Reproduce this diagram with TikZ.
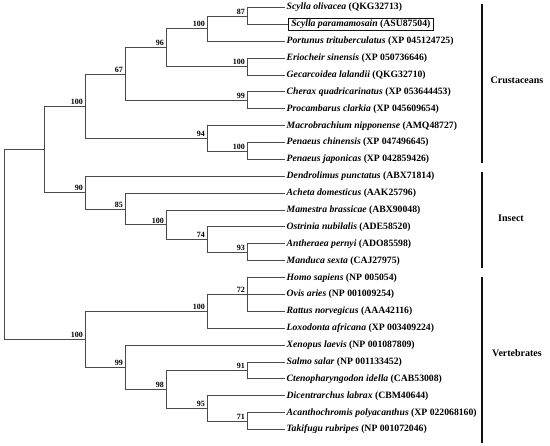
\documentclass[tikz,border=0pt]{standalone}
\usepackage{fontspec}
\setmainfont{Liberation Serif}
\usetikzlibrary{calc}
\definecolor{ink}{HTML}{111111}
\definecolor{branch}{HTML}{4A4A4A}

\tikzset{
  edge/.style={draw=branch,line width=0.8pt},
  taxon/.style={anchor=west,inner xsep=1.5pt,inner ysep=0pt,text height=7pt,text depth=2pt,
                font=\fontsize{9.7}{12}\selectfont\bfseries},
  boxed/.style={taxon,draw=ink,line width=0.6pt,inner xsep=3pt,inner ysep=1.5pt},
  boot/.style={anchor=south east,inner xsep=2pt,inner ysep=1.5pt,
               font=\fontsize{8}{9}\selectfont\bfseries},
  groupbar/.style={draw=ink,line width=1.5pt},
  group/.style={inner sep=0pt,font=\fontsize{10}{12}\selectfont\bfseries}
}

\begin{document}
\begin{tikzpicture}[x=1pt,y=-1pt]
  \useasboundingbox (0,0) rectangle (550,446);

  % taxa
  \node[taxon] (t0)  at (285,7.5)   {\textit{Scylla olivacea} (QKG32713)};
  \node[boxed] (t1)  at (288,24.4)  {\textit{Scylla paramamosain} (ASU87504)};
  \node[taxon] (t2)  at (285,41.3)  {\textit{Portunus trituberculatus} (XP 045124725)};
  \node[taxon] (t3)  at (285,58.1)  {\textit{Eriocheir sinensis} (XP 050736646)};
  \node[taxon] (t4)  at (285,75.0)  {\textit{Gecarcoidea lalandii} (QKG32710)};
  \node[taxon] (t5)  at (285,91.9)  {\textit{Cherax quadricarinatus} (XP 053644453)};
  \node[taxon] (t6)  at (285,108.8) {\textit{Procambarus clarkia} (XP 045609654)};
  \node[taxon] (t7)  at (285,125.7) {\textit{Macrobrachium nipponense} (AMQ48727)};
  \node[taxon] (t8)  at (285,142.5) {\textit{Penaeus chinensis} (XP 047496645)};
  \node[taxon] (t9)  at (285,159.4) {\textit{Penaeus japonicas} (XP 042859426)};
  \node[taxon] (t10) at (285,176.3) {\textit{Dendrolimus punctatus} (ABX71814)};
  \node[taxon] (t11) at (285,193.2) {\textit{Acheta domesticus} (AAK25796)};
  \node[taxon] (t12) at (285,210.1) {\textit{Mamestra brassicae} (ABX90048)};
  \node[taxon] (t13) at (285,226.9) {\textit{Ostrinia nubilalis} (ADE58520)};
  \node[taxon] (t14) at (285,243.8) {\textit{Antheraea pernyi} (ADO85598)};
  \node[taxon] (t15) at (285,260.7) {\textit{Manduca sexta} (CAJ27975)};
  \node[taxon] (t16) at (285,277.6) {\textit{Homo sapiens} (NP 005054)};
  \node[taxon] (t17) at (285,294.5) {\textit{Ovis aries} (NP 001009254)};
  \node[taxon] (t18) at (285,311.3) {\textit{Rattus norvegicus} (AAA42116)};
  \node[taxon] (t19) at (285,328.2) {\textit{Loxodonta africana} (XP 003409224)};
  \node[taxon] (t20) at (285,345.1) {\textit{Xenopus laevis} (NP 001087809)};
  \node[taxon] (t21) at (285,362.0) {\textit{Salmo salar} (NP 001133452)};
  \node[taxon] (t22) at (285,378.9) {\textit{Ctenopharyngodon idella} (CAB53008)};
  \node[taxon] (t23) at (285,395.7) {\textit{Dicentrarchus labrax} (CBM40644)};
  \node[taxon] (t24) at (285,412.6) {\textit{Acanthochromis polyacanthus} (XP 022068160)};
  \node[taxon] (t25) at (285,429.5) {\textit{Takifugu rubripes} (NP 001072046)};

  % internal nodes
  \coordinate (root)  at (4,244.35);
  \coordinate (nInv)  at (44,149.4);
  \coordinate (n100d) at (85,106.2);
  \coordinate (n67)   at (125,74.0);
  \coordinate (n96)   at (166,47.6);
  \coordinate (n100a) at (207,28.6);
  \coordinate (n87)   at (247,15.95);
  \coordinate (n100b) at (247,66.55);
  \coordinate (n99)   at (247,100.35);
  \coordinate (n94)   at (207,138.3);
  \coordinate (n100c) at (247,150.95);
  \coordinate (n90)   at (85,192.65);
  \coordinate (n85)   at (125,209.0);
  \coordinate (n100e) at (166,224.85);
  \coordinate (n74)   at (207,239.6);
  \coordinate (n93)   at (247,252.25);
  \coordinate (n100g) at (85,339.3);
  \coordinate (n100f) at (207,311.35);
  \coordinate (n72)   at (247,294.5);
  \coordinate (n99b)  at (125,367.25);
  \coordinate (n98)   at (166,389.4);
  \coordinate (n91)   at (247,370.45);
  \coordinate (n95)   at (207,408.4);
  \coordinate (n71)   at (247,421.05);

  % branches
  \draw[edge] (root) |- (nInv);   \draw[edge] (root) |- (n100g);
  \draw[edge] (nInv) |- (n100d);  \draw[edge] (nInv) |- (n90);
  \draw[edge] (n100d) |- (n67);   \draw[edge] (n100d) |- (n94);
  \draw[edge] (n67) |- (n96);     \draw[edge] (n67) |- (n99);
  \draw[edge] (n96) |- (n100a);   \draw[edge] (n96) |- (n100b);
  \draw[edge] (n100a) |- (n87);   \draw[edge] (n100a) |- (t2.west);
  \draw[edge] (n87) |- (t0.west); \draw[edge] (n87) |- (t1.west);
  \draw[edge] (n100b) |- (t3.west); \draw[edge] (n100b) |- (t4.west);
  \draw[edge] (n99) |- (t5.west); \draw[edge] (n99) |- (t6.west);
  \draw[edge] (n94) |- (t7.west); \draw[edge] (n94) |- (n100c);
  \draw[edge] (n100c) |- (t8.west); \draw[edge] (n100c) |- (t9.west);
  \draw[edge] (n90) |- (t10.west); \draw[edge] (n90) |- (n85);
  \draw[edge] (n85) |- (t11.west); \draw[edge] (n85) |- (n100e);
  \draw[edge] (n100e) |- (t12.west); \draw[edge] (n100e) |- (n74);
  \draw[edge] (n74) |- (t13.west); \draw[edge] (n74) |- (n93);
  \draw[edge] (n93) |- (t14.west); \draw[edge] (n93) |- (t15.west);
  \draw[edge] (n100g) |- (n100f); \draw[edge] (n100g) |- (n99b);
  \draw[edge] (n100f) |- (n72);   \draw[edge] (n100f) |- (t19.west);
  \draw[edge] (n72) |- (t16.west); \draw[edge] (n72) -- (t17.west);
  \draw[edge] (n72) |- (t18.west);
  \draw[edge] (n99b) |- (t20.west); \draw[edge] (n99b) |- (n98);
  \draw[edge] (n98) |- (n91);     \draw[edge] (n98) |- (n95);
  \draw[edge] (n91) |- (t21.west); \draw[edge] (n91) |- (t22.west);
  \draw[edge] (n95) |- (t23.west); \draw[edge] (n95) |- (n71);
  \draw[edge] (n71) |- (t24.west); \draw[edge] (n71) |- (t25.west);

  % bootstrap values
  \node[boot] (b87)   at (n87)   {87};
  \node[boot] (b100a) at (n100a) {100};
  \node[boot] (b100b) at (n100b) {100};
  \node[boot] (b96)   at (n96)   {96};
  \node[boot] (b99)   at (n99)   {99};
  \node[boot] (b67)   at (n67)   {67};
  \node[boot] (b100c) at (n100c) {100};
  \node[boot] (b94)   at (n94)   {94};
  \node[boot] (b100d) at (n100d) {100};
  \node[boot] (b93)   at (n93)   {93};
  \node[boot] (b74)   at (n74)   {74};
  \node[boot] (b100e) at (n100e) {100};
  \node[boot] (b85)   at (n85)   {85};
  \node[boot] (b90)   at (n90)   {90};
  \node[boot] (b72)   at (n72)   {72};
  \node[boot] (b100f) at (n100f) {100};
  \node[boot] (b91)   at (n91)   {91};
  \node[boot] (b71)   at (n71)   {71};
  \node[boot] (b95)   at (n95)   {95};
  \node[boot] (b98)   at (n98)   {98};
  \node[boot] (b99b)  at (n99b)  {99};
  \node[boot] (b100g) at (n100g) {100};

  % groups
  \coordinate (crTop) at (482,4);   \coordinate (crBot) at (482,163);
  \coordinate (inTop) at (482,172); \coordinate (inBot) at (482,268);
  \coordinate (veTop) at (482,277); \coordinate (veBot) at (482,443);
  \draw[groupbar] (crTop) -- (crBot);
  \draw[groupbar] (inTop) -- (inBot);
  \draw[groupbar] (veTop) -- (veBot);
  \node[group] (crust) at (517,80)  {Crustaceans};
  \node[group] (insct) at (511,218) {Insect};
  \node[group] (verte) at (517,353) {Vertebrates};
\end{tikzpicture}
\end{document}
